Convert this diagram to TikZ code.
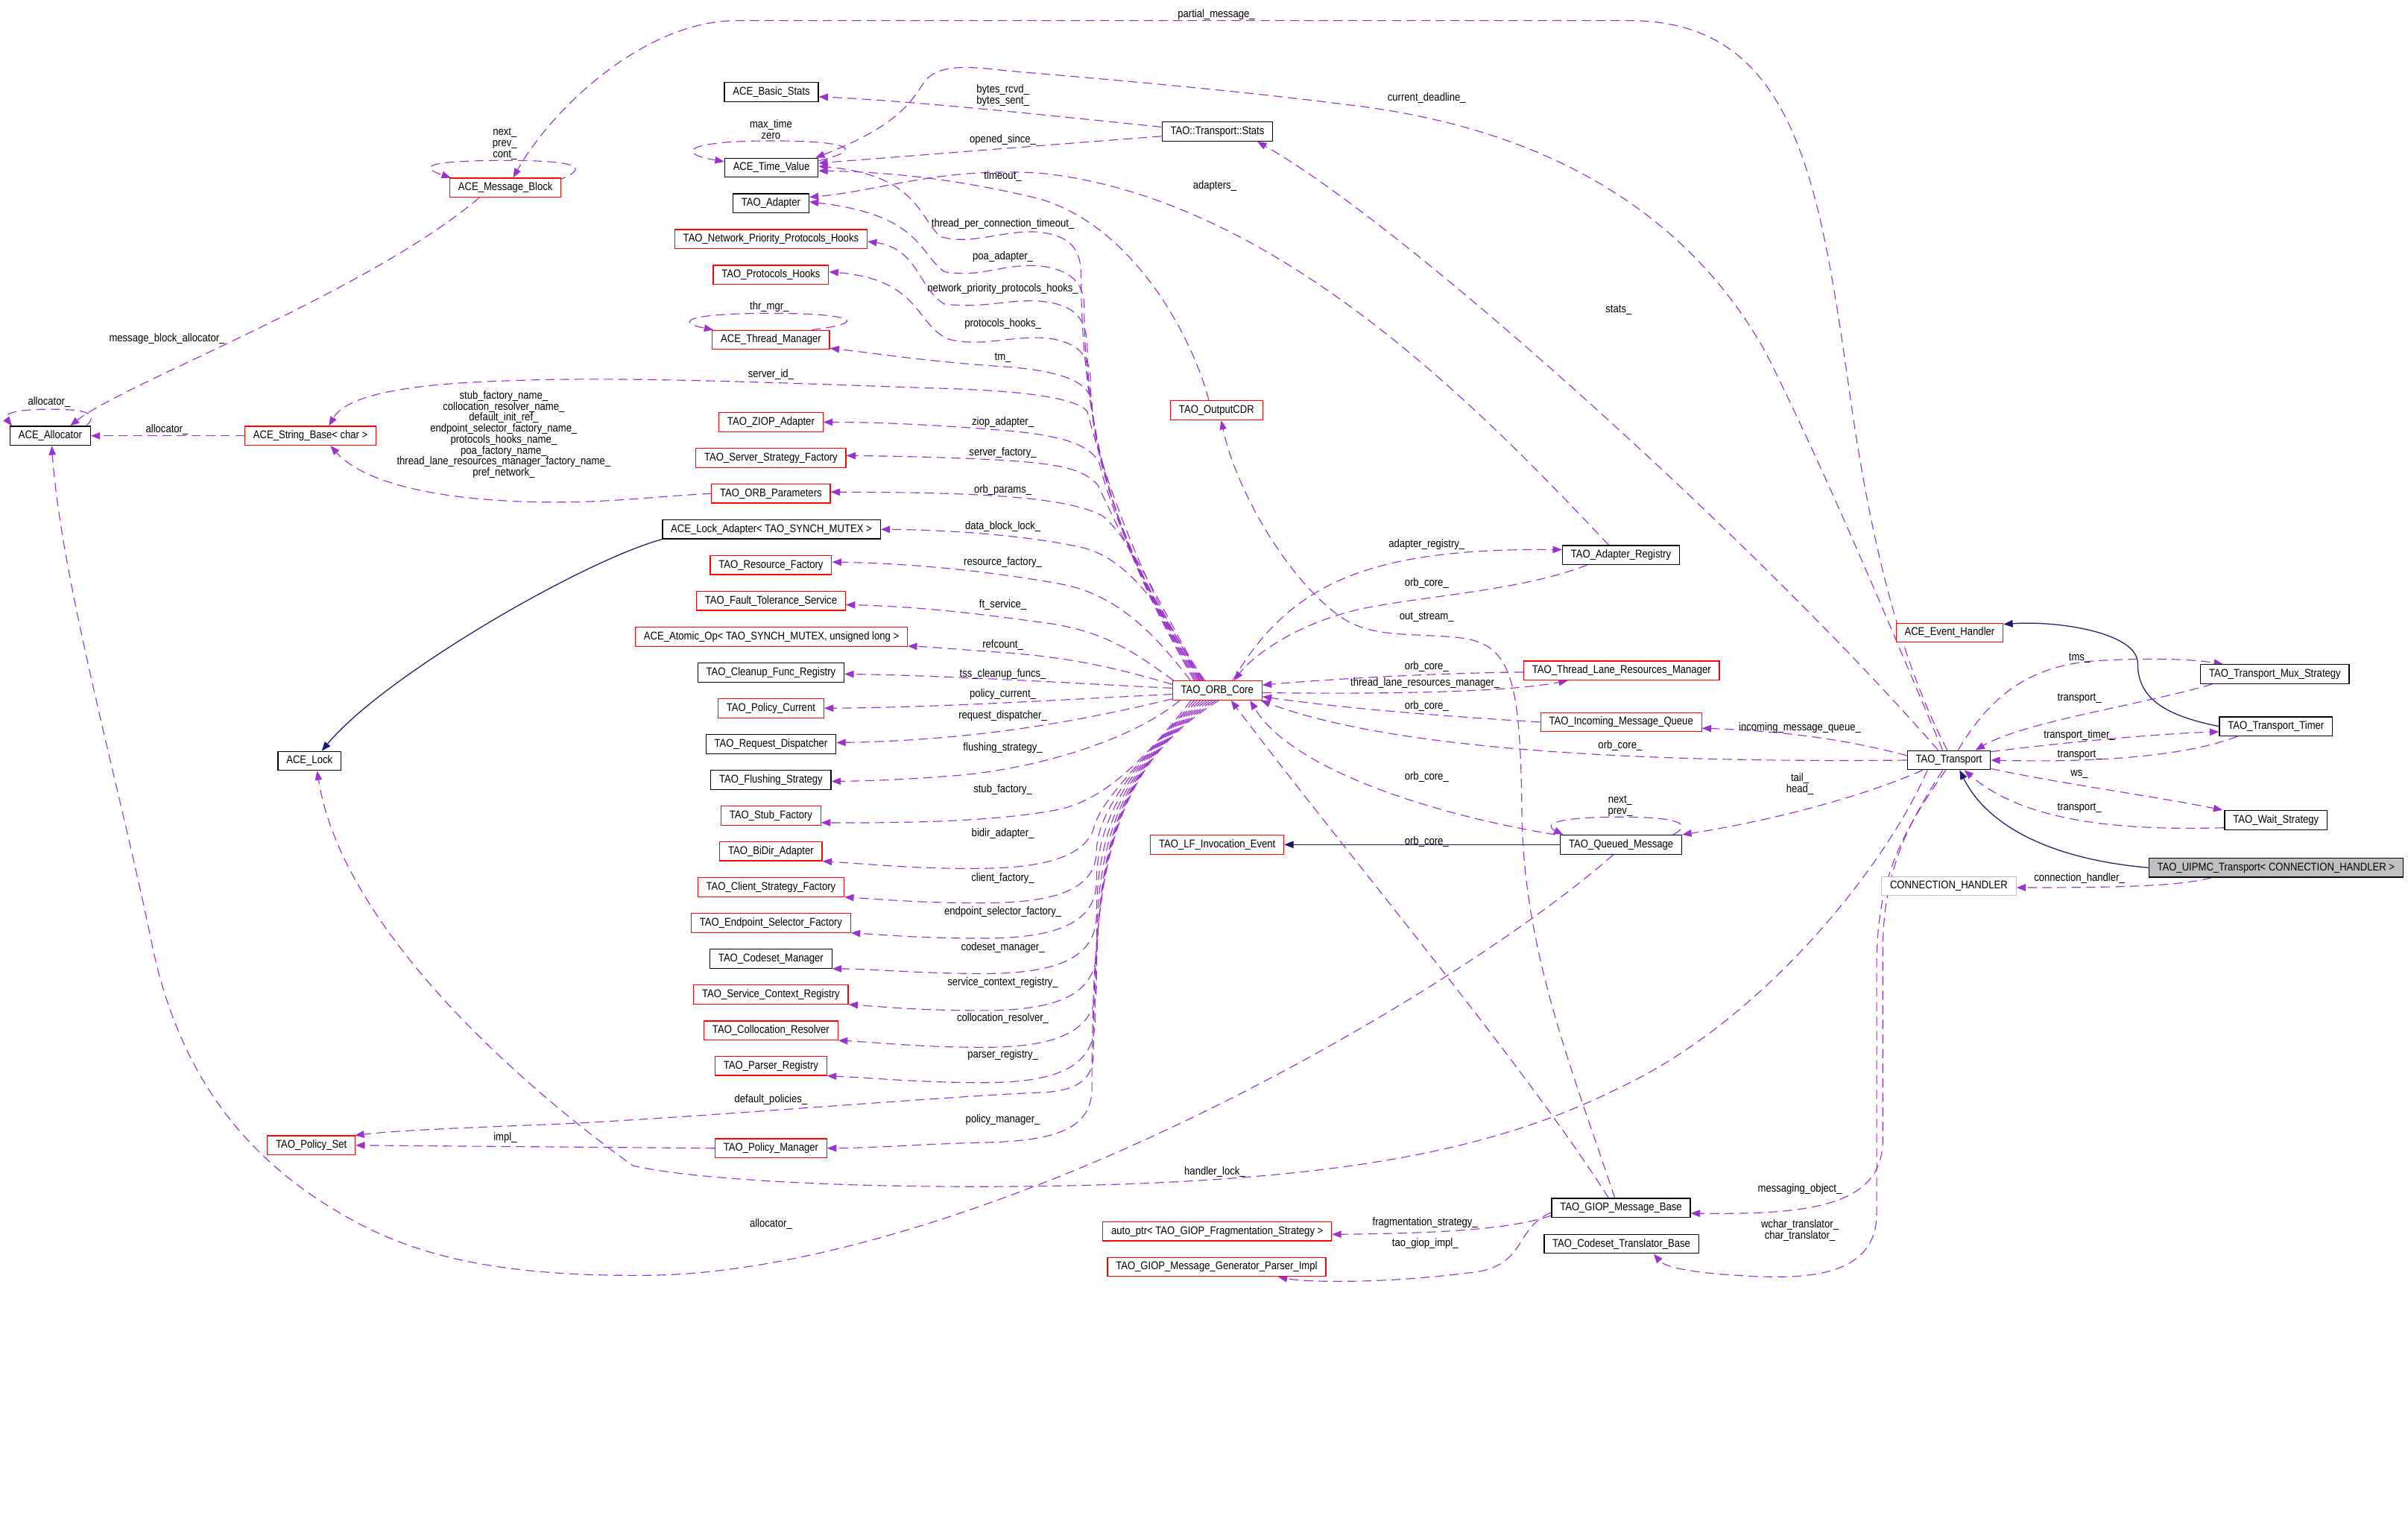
\documentclass[tikz,border=0pt]{standalone}
\usepackage{fontspec}
\setmainfont{Liberation Sans}[FakeStretch=0.87]
\usetikzlibrary{arrows.meta}
\definecolor{edgepurple}{HTML}{9A32CD}
\definecolor{inhblue}{HTML}{191970}
\definecolor{boxred}{HTML}{FF0000}
\definecolor{ghostgray}{HTML}{BFBFBF}
\pgfdeclarelayer{bg}
\pgfsetlayers{bg,main}
\begin{document}
\begin{tikzpicture}[x=1pt,y=1pt,
  every node/.style={font=\fontsize{7.3}{7.15}\selectfont},
  cls/.style={draw=black, fill=white, line width=0.6pt, inner xsep=5.5pt, inner ysep=0pt, minimum height=12.4pt, text height=5.3pt, text depth=1.5pt},
  redcls/.style={cls, draw=boxred},
  ghostcls/.style={cls, draw=ghostgray},
  maincls/.style={cls, fill=ghostgray},
  uses/.style={draw=edgepurple, line width=0.55pt, dash pattern=on 6pt off 3.5pt, -{Triangle[length=6pt,width=4.6pt]}},
  inh/.style={draw=inhblue, line width=0.6pt, -{Triangle[length=6pt,width=4.6pt]}},
  lbl/.style={inner sep=0pt, align=center}
]
\useasboundingbox (0,0) rectangle (1568,-996.3);

% ---------------- class nodes ----------------
\node[cls] (allocator) at (32.7,-283.8) {ACE\_Allocator};
\node[redcls] (stringbase) at (202.2,-283.8) {ACE\_String\_Base< char >};
\node[redcls] (msgblock) at (329.1,-122.2) {ACE\_Message\_Block};
\node[cls] (basicstats) at (502.3,-60) {ACE\_Basic\_Stats};
\node[cls] (timevalue) at (502.3,-109.2) {ACE\_Time\_Value};
\node[cls] (taoadapter) at (502,-132.4) {TAO\_Adapter};
\node[redcls] (npph) at (502,-155.7) {TAO\_Network\_Priority\_Protocols\_Hooks};
\node[redcls] (protohooks) at (502,-179) {TAO\_Protocols\_Hooks};
\node[redcls] (threadmgr) at (502,-221.3) {ACE\_Thread\_Manager};
\node[redcls] (ziop) at (502,-274.9) {TAO\_ZIOP\_Adapter};
\node[redcls] (ssf) at (502,-298.2) {TAO\_Server\_Strategy\_Factory};
\node[redcls] (orbparams) at (502,-321.4) {TAO\_ORB\_Parameters};
\node[cls] (lockadapter) at (502.3,-344.7) {ACE\_Lock\_Adapter< TAO\_SYNCH\_MUTEX >};
\node[redcls] (resfactory) at (502,-368) {TAO\_Resource\_Factory};
\node[redcls] (fts) at (502,-391.3) {TAO\_Fault\_Tolerance\_Service};
\node[redcls] (atomicop) at (502.3,-414.7) {ACE\_Atomic\_Op< TAO\_SYNCH\_MUTEX, unsigned long >};
\node[cls] (cleanup) at (502,-437.9) {TAO\_Cleanup\_Func\_Registry};
\node[redcls] (policycurrent) at (502,-461.2) {TAO\_Policy\_Current};
\node[cls] (reqdisp) at (502,-484.6) {TAO\_Request\_Dispatcher};
\node[cls] (flushing) at (502,-507.8) {TAO\_Flushing\_Strategy};
\node[redcls] (stubfactory) at (502,-531.2) {TAO\_Stub\_Factory};
\node[redcls] (bidir) at (502,-554.3) {TAO\_BiDir\_Adapter};
\node[redcls] (clientsf) at (502,-577.7) {TAO\_Client\_Strategy\_Factory};
\node[redcls] (endpointsf) at (502,-601) {TAO\_Endpoint\_Selector\_Factory};
\node[cls] (codesetmgr) at (502,-624.3) {TAO\_Codeset\_Manager};
\node[redcls] (servicectx) at (502,-647.6) {TAO\_Service\_Context\_Registry};
\node[redcls] (collocation) at (502,-671) {TAO\_Collocation\_Resolver};
\node[redcls] (parserreg) at (502,-694.1) {TAO\_Parser\_Registry};
\node[redcls] (policymgr) at (502,-747.7) {TAO\_Policy\_Manager};
\node[redcls] (policyset) at (202.7,-745.8) {TAO\_Policy\_Set};
\node[cls] (acelock) at (201.5,-495.5) {ACE\_Lock};
\node[cls] (stats) at (792.7,-85.7) {TAO::Transport::Stats};
\node[redcls] (outputcdr) at (792.2,-267.2) {TAO\_OutputCDR};
\node[redcls] (orb) at (792.6,-449.6) {TAO\_ORB\_Core};
\node[redcls] (lfevent) at (792.6,-550) {TAO\_LF\_Invocation\_Event};
\node[redcls] (autoptr) at (792.6,-801.8) {auto\_ptr< TAO\_GIOP\_Fragmentation\_Strategy >};
\node[redcls] (genparser) at (792.2,-825) {TAO\_GIOP\_Message\_Generator\_Parser\_Impl};
\node[cls] (adapterreg) at (1055.5,-361.4) {TAO\_Adapter\_Registry};
\node[redcls] (tlrm) at (1055.9,-436.7) {TAO\_Thread\_Lane\_Resources\_Manager};
\node[redcls] (imq) at (1055.6,-470.2) {TAO\_Incoming\_Message\_Queue};
\node[cls] (queued) at (1055.6,-550) {TAO\_Queued\_Message};
\node[cls] (msgbase) at (1055.5,-786.6) {TAO\_GIOP\_Message\_Base};
\node[cls] (codesettrans) at (1055.8,-810) {TAO\_Codeset\_Translator\_Base};
\node[redcls] (eventhandler) at (1269.5,-412) {ACE\_Event\_Handler};
\node[cls] (transport) at (1269,-495) {TAO\_Transport};
\node[ghostcls] (connhandler) at (1269,-577) {CONNECTION\_HANDLER};
\node[cls] (mux) at (1481.3,-439) {TAO\_Transport\_Mux\_Strategy};
\node[cls] (timer) at (1482,-473) {TAO\_Transport\_Timer};
\node[cls] (wait) at (1482,-534) {TAO\_Wait\_Strategy};
\node[maincls] (uipmc) at (1482,-565) {TAO\_UIPMC\_Transport< CONNECTION\_HANDLER >};

% ---------------- edge labels ----------------
\node[lbl] (l01) at (792,-9.3) {partial\_message\_};
\node[lbl] (l02) at (929,-64) {current\_deadline\_};
\node[lbl] (l03) at (653,-62.3) {bytes\_rcvd\_\\bytes\_sent\_};
\node[lbl] (l04) at (502,-84.2) {max\_time\\zero};
\node[lbl] (l05) at (653,-91) {opened\_since\_};
\node[lbl] (l06) at (328.7,-93.7) {next\_\\prev\_\\cont\_};
\node[lbl] (l07) at (653,-115) {timeout\_};
\node[lbl] (l08) at (791,-121) {adapters\_};
\node[lbl] (l09) at (653,-146) {thread\_per\_connection\_timeout\_};
\node[lbl] (l10) at (653,-167) {poa\_adapter\_};
\node[lbl] (l11) at (653,-188) {network\_priority\_protocols\_hooks\_};
\node[lbl] (l12) at (501,-199.7) {thr\_mgr\_};
\node[lbl] (l13) at (1054,-202) {stats\_};
\node[lbl] (l14) at (108.7,-220.6) {message\_block\_allocator\_};
\node[lbl] (l15) at (653,-211) {protocols\_hooks\_};
\node[lbl] (l16) at (653,-233) {tm\_};
\node[lbl] (l17) at (502,-244) {server\_id\_};
\node[lbl] (l18) at (32,-261.8) {allocator\_};
\node[lbl] (l19) at (653,-275) {ziop\_adapter\_};
\node[lbl] (l20) at (108.7,-279.9) {allocator\_};
\node[lbl] (l21) at (653,-295) {server\_factory\_};
\node[lbl] (l22) at (328,-283) {stub\_factory\_name\_\\collocation\_resolver\_name\_\\default\_init\_ref\_\\endpoint\_selector\_factory\_name\_\\protocols\_hooks\_name\_\\poa\_factory\_name\_\\thread\_lane\_resources\_manager\_factory\_name\_\\pref\_network\_};
\node[lbl] (l23) at (653,-319) {orb\_params\_};
\node[lbl] (l24) at (653,-343) {data\_block\_lock\_};
\node[lbl] (l25) at (929,-354.8) {adapter\_registry\_};
\node[lbl] (l26) at (653,-366) {resource\_factory\_};
\node[lbl] (l27) at (929,-380) {orb\_core\_};
\node[lbl] (l28) at (653,-394) {ft\_service\_};
\node[lbl] (l29) at (929,-402) {out\_stream\_};
\node[lbl] (l30) at (653,-420) {refcount\_};
\node[lbl] (l31) at (929,-434) {orb\_core\_};
\node[lbl] (l32) at (653,-439) {tss\_cleanup\_funcs\_};
\node[lbl] (l33) at (928,-445) {thread\_lane\_resources\_manager\_};
\node[lbl] (l34) at (653,-452) {policy\_current\_};
\node[lbl] (l35) at (929,-459.7) {orb\_core\_};
\node[lbl] (l36) at (653,-466) {request\_dispatcher\_};
\node[lbl] (l37) at (1172,-474) {incoming\_message\_queue\_};
\node[lbl] (l38) at (1055,-485.4) {orb\_core\_};
\node[lbl] (l39) at (653,-487) {flushing\_strategy\_};
\node[lbl] (l40) at (929,-506) {orb\_core\_};
\node[lbl] (l41) at (1172,-510.7) {tail\_\\head\_};
\node[lbl] (l42) at (653,-514) {stub\_factory\_};
\node[lbl] (l43) at (1055,-524.8) {next\_\\prev\_};
\node[lbl] (l44) at (653,-543) {bidir\_adapter\_};
\node[lbl] (l45) at (929,-548) {orb\_core\_};
\node[lbl] (l46) at (653,-572) {client\_factory\_};
\node[lbl] (l47) at (1354,-572) {connection\_handler\_};
\node[lbl] (l48) at (653,-594) {endpoint\_selector\_factory\_};
\node[lbl] (l49) at (653,-617) {codeset\_manager\_};
\node[lbl] (l50) at (653,-640) {service\_context\_registry\_};
\node[lbl] (l51) at (653,-663) {collocation\_resolver\_};
\node[lbl] (l52) at (653,-687) {parser\_registry\_};
\node[lbl] (l53) at (502,-716) {default\_policies\_};
\node[lbl] (l54) at (653,-729) {policy\_manager\_};
\node[lbl] (l55) at (329,-741) {impl\_};
\node[lbl] (l56) at (791,-763) {handler\_lock\_};
\node[lbl] (l57) at (1172,-774.5) {messaging\_object\_};
\node[lbl] (l58) at (928,-796) {fragmentation\_strategy\_};
\node[lbl] (l59) at (502,-797) {allocator\_};
\node[lbl] (l60) at (1172,-801.3) {wchar\_translator\_\\char\_translator\_};
\node[lbl] (l61) at (928,-810) {tao\_giop\_impl\_};
\node[lbl] (l62) at (1354,-428.4) {tms\_};
\node[lbl] (l63) at (1354,-454.6) {transport\_};
\node[lbl] (l64) at (1354,-479) {transport\_timer\_};
\node[lbl] (l65) at (1354,-491.5) {transport\_};
\node[lbl] (l66) at (1354,-504.4) {ws\_};
\node[lbl] (l67) at (1354,-526) {transport\_};

\begin{pgfonlayer}{bg}
\fill[white] (0,0) rectangle (1568,-996.3);

% ---------------- inheritance ----------------
\draw[inh] (lockadapter.south west) .. controls (380,-365) and (250,-440) .. ([xshift=8pt]acelock.north);
\draw[inh] (queued.west) -- (lfevent.east);
\draw[inh] (timer.west) .. controls (1410,-466) and (1392,-455) .. (1392,-432) .. controls (1392,-412) and (1340,-404) .. ([yshift=-1pt]eventhandler.north east);
\draw[inh] (uipmc.west) .. controls (1340,-560) and (1295,-540) .. ([xshift=7pt]transport.south);

% ---------------- left cluster ----------------
\draw[uses] ([yshift=-2pt,xshift=-3pt]msgblock.north east) .. controls (388,-108) and (372,-104.5) .. (329,-104.5) .. controls (282,-104.5) and (270,-108) .. ([xshift=1pt]msgblock.north west);
\draw[uses] ([xshift=-17pt]msgblock.south) .. controls (240,-190) and (80,-250) .. ([xshift=13pt]allocator.north);
\draw[uses] ([xshift=-3pt]allocator.north east) .. controls (66,-268) and (52,-266.5) .. (32,-266.5) .. controls (8,-266.5) and (2,-270) .. ([xshift=1.5pt]allocator.north west);
\draw[uses] (stringbase.west) -- (allocator.east);
\draw[uses] (orbparams.west) .. controls (430,-323) and (400,-327) .. (362,-327) .. controls (300,-327) and (240,-318) .. ([xshift=13pt]stringbase.south);
\draw[uses] (policymgr.west) -- (policyset.east);
\draw[uses] ([xshift=-12pt]threadmgr.north east) .. controls (568,-210) and (555,-204) .. (502,-204) .. controls (445,-204) and (440,-210) .. ([xshift=1pt]threadmgr.north west);

% ---------------- stats / time value ----------------
\draw[uses] ([yshift=3pt]stats.west) .. controls (700,-77) and (600,-66) .. ([yshift=-3pt]basicstats.east);
\draw[uses] ([yshift=-3pt]stats.west) .. controls (700,-93) and (600,-101) .. ([yshift=3pt]timevalue.east);
\draw[uses] ([yshift=-2pt]timevalue.north east) .. controls (565,-97) and (552,-91.7) .. (502,-91.7) .. controls (445,-91.7) and (440,-100) .. ([yshift=-2.5pt]timevalue.north west);
\draw[uses] ([xshift=-5pt]outputcdr.north) .. controls (775,-215) and (735,-145) .. (675,-129) .. controls (625,-117) and (580,-112) .. ([yshift=-2pt]timevalue.east);
\draw[uses] ([xshift=-8pt]adapterreg.north) .. controls (960,-262) and (830,-130) .. (680,-113) .. controls (615,-108) and (575,-124) .. ([yshift=4pt]taoadapter.east);

% ---------------- TAO_Transport long edges ----------------
\draw[uses] ([xshift=-4pt]transport.north) .. controls (1240,-430) and (1195,-320) .. (1150,-230) .. controls (1100,-140) and (1010,-85) .. (884,-69) .. controls (790,-57) and (700,-50) .. (655,-46) .. controls (630,-43) and (612,-42) .. (603,-52) .. controls (595,-62) and (590,-80) .. ([xshift=-2pt]timevalue.north east);
\draw[uses] ([xshift=-1pt]transport.north) .. controls (1232,-420) and (1215,-330) .. (1205,-260) .. controls (1185,-120) and (1170,-13.4) .. (1061,-13.4) -- (480,-13.4) .. controls (420,-13.4) and (360,-70) .. ([xshift=5pt]msgblock.north);
\draw[uses] ([xshift=-7pt]transport.north) .. controls (1150,-360) and (920,-150) .. ([xshift=26pt]stats.south);
\draw[uses] (transport.west) .. controls (1050,-497) and (900,-486) .. ([xshift=-1pt]orb.south east);
\draw[uses] ([yshift=3pt]transport.west) .. controls (1200,-481) and (1160,-476) .. ([yshift=-4pt]imq.east);
\draw[uses] ([xshift=-17pt]transport.south) .. controls (1210,-520) and (1150,-535) .. (queued.north east);
\draw[uses] ([xshift=-4pt]transport.south) .. controls (1240,-540) and (1226,-570) .. (1226,-620) -- (1226,-742) .. controls (1226,-785) and (1180,-791) .. ([yshift=-3.5pt]msgbase.east);
\draw[uses] ([xshift=-2pt]transport.south) .. controls (1236,-545) and (1222,-575) .. (1222,-630) -- (1222,-790) .. controls (1222,-830) and (1180,-833) .. (1140,-831) .. controls (1100,-829) and (1084,-825) .. ([xshift=21pt]codesettrans.south);
\draw[uses] ([xshift=-14pt]transport.south) .. controls (1230,-560) and (1150,-665) .. (1051,-710) .. controls (970,-750) and (870,-768) .. (700,-772) .. controls (560,-775) and (450,-768) .. (412,-759) .. controls (330,-700) and (222,-600) .. ([xshift=5pt]acelock.south);

% ---------------- right cluster ----------------
\draw[uses] ([xshift=6pt]transport.north) .. controls (1295,-455) and (1320,-432) .. (1370,-430) .. controls (1410,-428) and (1432,-430) .. ([xshift=15pt]mux.north west);
\draw[uses] ([xshift=8pt]mux.south west) .. controls (1390,-460) and (1318,-470) .. ([xshift=-10pt]transport.north east);
\draw[uses] ([yshift=-1pt]transport.north east) .. controls (1340,-484) and (1400,-478) .. ([yshift=-3.5pt]timer.west);
\draw[uses] ([xshift=12pt]timer.south west) .. controls (1430,-490) and (1380,-497) .. (transport.east);
\draw[uses] ([yshift=1pt]transport.south east) .. controls (1340,-510) and (1400,-518) .. ([xshift=-1pt]wait.north west);
\draw[uses] ([yshift=-5pt]wait.west) .. controls (1380,-541) and (1318,-535) .. ([xshift=10pt]transport.south);
\draw[uses] ([xshift=-42pt]uipmc.south) .. controls (1420,-577) and (1380,-578) .. ([yshift=-1pt]connhandler.east);

% ---------------- middle right cluster ----------------
\draw[uses] ([xshift=10pt]orb.north) .. controls (840,-380) and (890,-357) .. ([yshift=3.5pt]adapterreg.west);
\draw[uses] ([xshift=-22pt]adapterreg.south) .. controls (990,-385) and (925,-388) .. (884,-397) .. controls (842,-407) and (815,-428) .. ([xshift=11pt]orb.north);
\draw[uses] ([yshift=-1pt]tlrm.west) .. controls (950,-438) and (880,-441) .. ([yshift=3.5pt]orb.east);
\draw[uses] ([yshift=-1.5pt]orb.east) .. controls (900,-452) and (980,-451) .. ([xshift=-35pt]tlrm.south);
\draw[uses] (imq.west) .. controls (950,-467) and (880,-462) .. ([yshift=-4pt]orb.east);
\draw[uses] ([xshift=-6pt]queued.north east) .. controls (1102,-537) and (1095,-532) .. (1055,-532) .. controls (1012,-532) and (1005,-537) .. ([xshift=2pt]queued.north west);
\draw[uses] ([xshift=-3pt]queued.north west) .. controls (930,-530) and (840,-500) .. ([xshift=-8pt]orb.south east);
\draw[uses] ([xshift=-8pt]msgbase.north) .. controls (990,-690) and (880,-560) .. ([xshift=9pt]orb.south);
\draw[uses] ([xshift=-4pt]msgbase.north) .. controls (1025,-700) and (992,-620) .. (991,-530) .. controls (990,-445) and (985,-420) .. (952,-415.5) .. controls (925,-412) and (895,-416) .. (875,-403) .. controls (840,-380) and (805,-320) .. ([xshift=3pt]outputcdr.south);
\draw[uses] ([yshift=-5pt]msgbase.west) .. controls (990,-798) and (960,-803) .. ([yshift=-2pt]autoptr.east);
\draw[uses] ([yshift=-3pt]msgbase.west) .. controls (985,-800) and (995,-826) .. (955,-829) .. controls (900,-836) and (850,-835) .. ([xshift=40pt]genparser.south);
\draw[uses] ([xshift=-5pt]queued.south) .. controls (990,-610) and (850,-700) .. (700,-762) .. controls (600,-803) and (500,-830) .. (420,-830.5) .. controls (340,-831) and (285,-822) .. (240,-800) .. controls (160,-760) and (118,-700) .. (100,-620) .. controls (80,-520) and (40,-380) .. ([xshift=1pt]allocator.south);

% ---------------- ORB_Core: upper group ----------------
\draw[uses] ([xshift=-9pt]orb.north) .. controls (760,-405) and (738,-352) .. (718,-336) .. controls (700,-326) and (660,-323) .. (620,-321.5) .. controls (590,-320.5) and (565,-320.5) .. ([yshift=1pt]orbparams.east);
\draw[uses] ([xshift=-9.5pt]orb.north) .. controls (755,-400) and (726,-340) .. (715,-316) .. controls (705,-305) and (690,-302) .. (650,-299.5) .. controls (610,-297.5) and (580,-297) .. ([yshift=1.5pt]ssf.east);
\draw[uses] ([xshift=-10pt]orb.north) .. controls (752,-400) and (722,-330) .. (716,-302) .. controls (710,-289) and (690,-283) .. (650,-280) .. controls (600,-276) and (570,-275) .. (ziop.east);
\draw[uses] ([xshift=-8pt]orb.north) .. controls (745,-390) and (716,-300) .. (708,-268) .. controls (700,-258) and (660,-254) .. (600,-252.5) .. controls (500,-249) and (400,-245) .. (330,-248) .. controls (262,-250) and (225,-258) .. ([xshift=12pt]stringbase.north);
\draw[uses] ([xshift=-11pt]orb.north) .. controls (745,-385) and (712,-310) .. (711,-262) .. controls (709,-248) and (690,-241) .. (650,-238.5) .. controls (600,-235) and (570,-230) .. ([yshift=1pt]threadmgr.south east);
\draw[uses] ([xshift=-12pt]orb.north) .. controls (745,-385) and (710,-310) .. (710,-245) .. controls (709,-230) and (700,-222) .. (680,-220) .. controls (655,-219) and (640,-226) .. (618,-221) .. controls (596,-212) and (600,-182) .. ([yshift=2pt]protohooks.east);
\draw[uses] ([xshift=-13pt]orb.north) .. controls (745,-385) and (708,-310) .. (708,-225) .. controls (707,-207) and (700,-198) .. (676,-196) .. controls (655,-195) and (640,-201) .. (615,-198) .. controls (598,-188) and (598,-162) .. ([yshift=-1.5pt]npph.east);
\draw[uses] ([xshift=-14pt]orb.north) .. controls (745,-385) and (706,-310) .. (706,-200) .. controls (706,-185) and (698,-175) .. (675,-173) .. controls (652,-172) and (638,-181) .. (615,-177) .. controls (598,-165) and (600,-140) .. ([yshift=1pt]taoadapter.east);
\draw[uses] ([xshift=-15pt]orb.north) .. controls (745,-385) and (704,-310) .. (704,-180) .. controls (704,-162) and (697,-153) .. (675,-151) .. controls (652,-150) and (632,-160) .. (612,-154) .. controls (598,-140) and (596,-114) .. ([yshift=1pt]timevalue.east);

% ---------------- ORB_Core: middle group ----------------
\draw[uses] ([xshift=-11.5pt]orb.north) .. controls (760,-400) and (735,-362) .. (702,-356) .. controls (670,-349) and (620,-345) .. (lockadapter.east);
\draw[uses] ([xshift=-17.5pt]orb.north) .. controls (750,-410) and (725,-386) .. (689,-380) .. controls (650,-373) and (600,-367) .. ([yshift=2pt]resfactory.east);
\draw[uses] ([xshift=1pt]orb.north west) .. controls (740,-426) and (720,-410) .. (676,-405) .. controls (640,-400) and (600,-395) .. ([yshift=-2.5pt]fts.east);
\draw[uses] ([yshift=-2.5pt]orb.north west) .. controls (730,-436) and (700,-428) .. (649,-424.6) .. controls (625,-423) and (610,-421.5) .. ([yshift=0.5pt]atomicop.south east);
\draw[uses] ([yshift=1.5pt]orb.west) .. controls (700,-445) and (620,-440) .. ([yshift=-1pt]cleanup.east);
\draw[uses] ([yshift=-2.5pt]orb.west) .. controls (700,-455) and (620,-460.5) .. (policycurrent.east);
\draw[uses] ([yshift=-5.5pt]orb.west) .. controls (710,-468) and (640,-482) .. ([yshift=1pt]reqdisp.east);
\draw[uses] ([xshift=5pt]orb.south west) .. controls (740,-480) and (680,-500) .. (623,-505) .. controls (590,-507.5) and (570,-508.5) .. ([yshift=-1pt]flushing.east);

% ---------------- ORB_Core: lower group ----------------
\draw[uses] ([xshift=-17pt]orb.south) .. controls (745,-495) and (720,-520) .. (690,-527) .. controls (650,-535) and (590,-536) .. ([yshift=2pt]stubfactory.south east);
\draw[uses] ([xshift=-15pt]orb.south) .. controls (740,-500) and (716,-522) .. (712,-540) .. controls (706,-557) and (682,-565) .. (640,-565.5) .. controls (600,-566) and (570,-563) .. (bidir.south east);
\draw[uses] ([xshift=-13pt]orb.south) .. controls (737,-500) and (714,-530) .. (714,-555) .. controls (713,-578) and (690,-588) .. (640,-588) .. controls (600,-588) and (580,-586) .. (clientsf.south east);
\draw[uses] ([xshift=-11pt]orb.south) .. controls (735,-500) and (714,-535) .. (714,-575) .. controls (713,-600) and (690,-611) .. (640,-611) .. controls (600,-611) and (580,-609) .. (endpointsf.south east);
\draw[uses] ([xshift=-9pt]orb.south) .. controls (733,-500) and (714,-540) .. (714,-597) .. controls (713,-623) and (690,-634) .. (640,-634) .. controls (600,-634) and (570,-631) .. (codesetmgr.south east);
\draw[uses] ([xshift=-7pt]orb.south) .. controls (731,-500) and (714,-545) .. (714,-620) .. controls (713,-647) and (690,-658) .. (640,-658) .. controls (600,-658) and (580,-656) .. (servicectx.south east);
\draw[uses] ([xshift=-5pt]orb.south) .. controls (729,-500) and (714,-550) .. (714,-643) .. controls (713,-671) and (690,-682) .. (640,-682) .. controls (600,-682) and (575,-679) .. (collocation.south east);
\draw[uses] ([xshift=-3pt]orb.south) .. controls (727,-500) and (713,-555) .. (713,-666) .. controls (712,-694) and (690,-705) .. (640,-705) .. controls (600,-705) and (570,-702) .. (parserreg.south east);
\draw[uses] ([xshift=-1pt]orb.south) .. controls (725,-500) and (712,-560) .. (712,-688) .. controls (711,-704) and (700,-711) .. (675,-711.5) .. controls (600,-715) and (450,-728) .. (362,-732) .. controls (300,-734.5) and (260,-736) .. ([xshift=-0.5pt]policyset.north east);
\draw[uses] ([xshift=1pt]orb.south) .. controls (723,-500) and (711,-565) .. (711,-710) .. controls (710,-734) and (690,-743) .. (640,-744) .. controls (600,-745) and (570,-747.5) .. (policymgr.east);
\end{pgfonlayer}
\end{tikzpicture}
\end{document}
